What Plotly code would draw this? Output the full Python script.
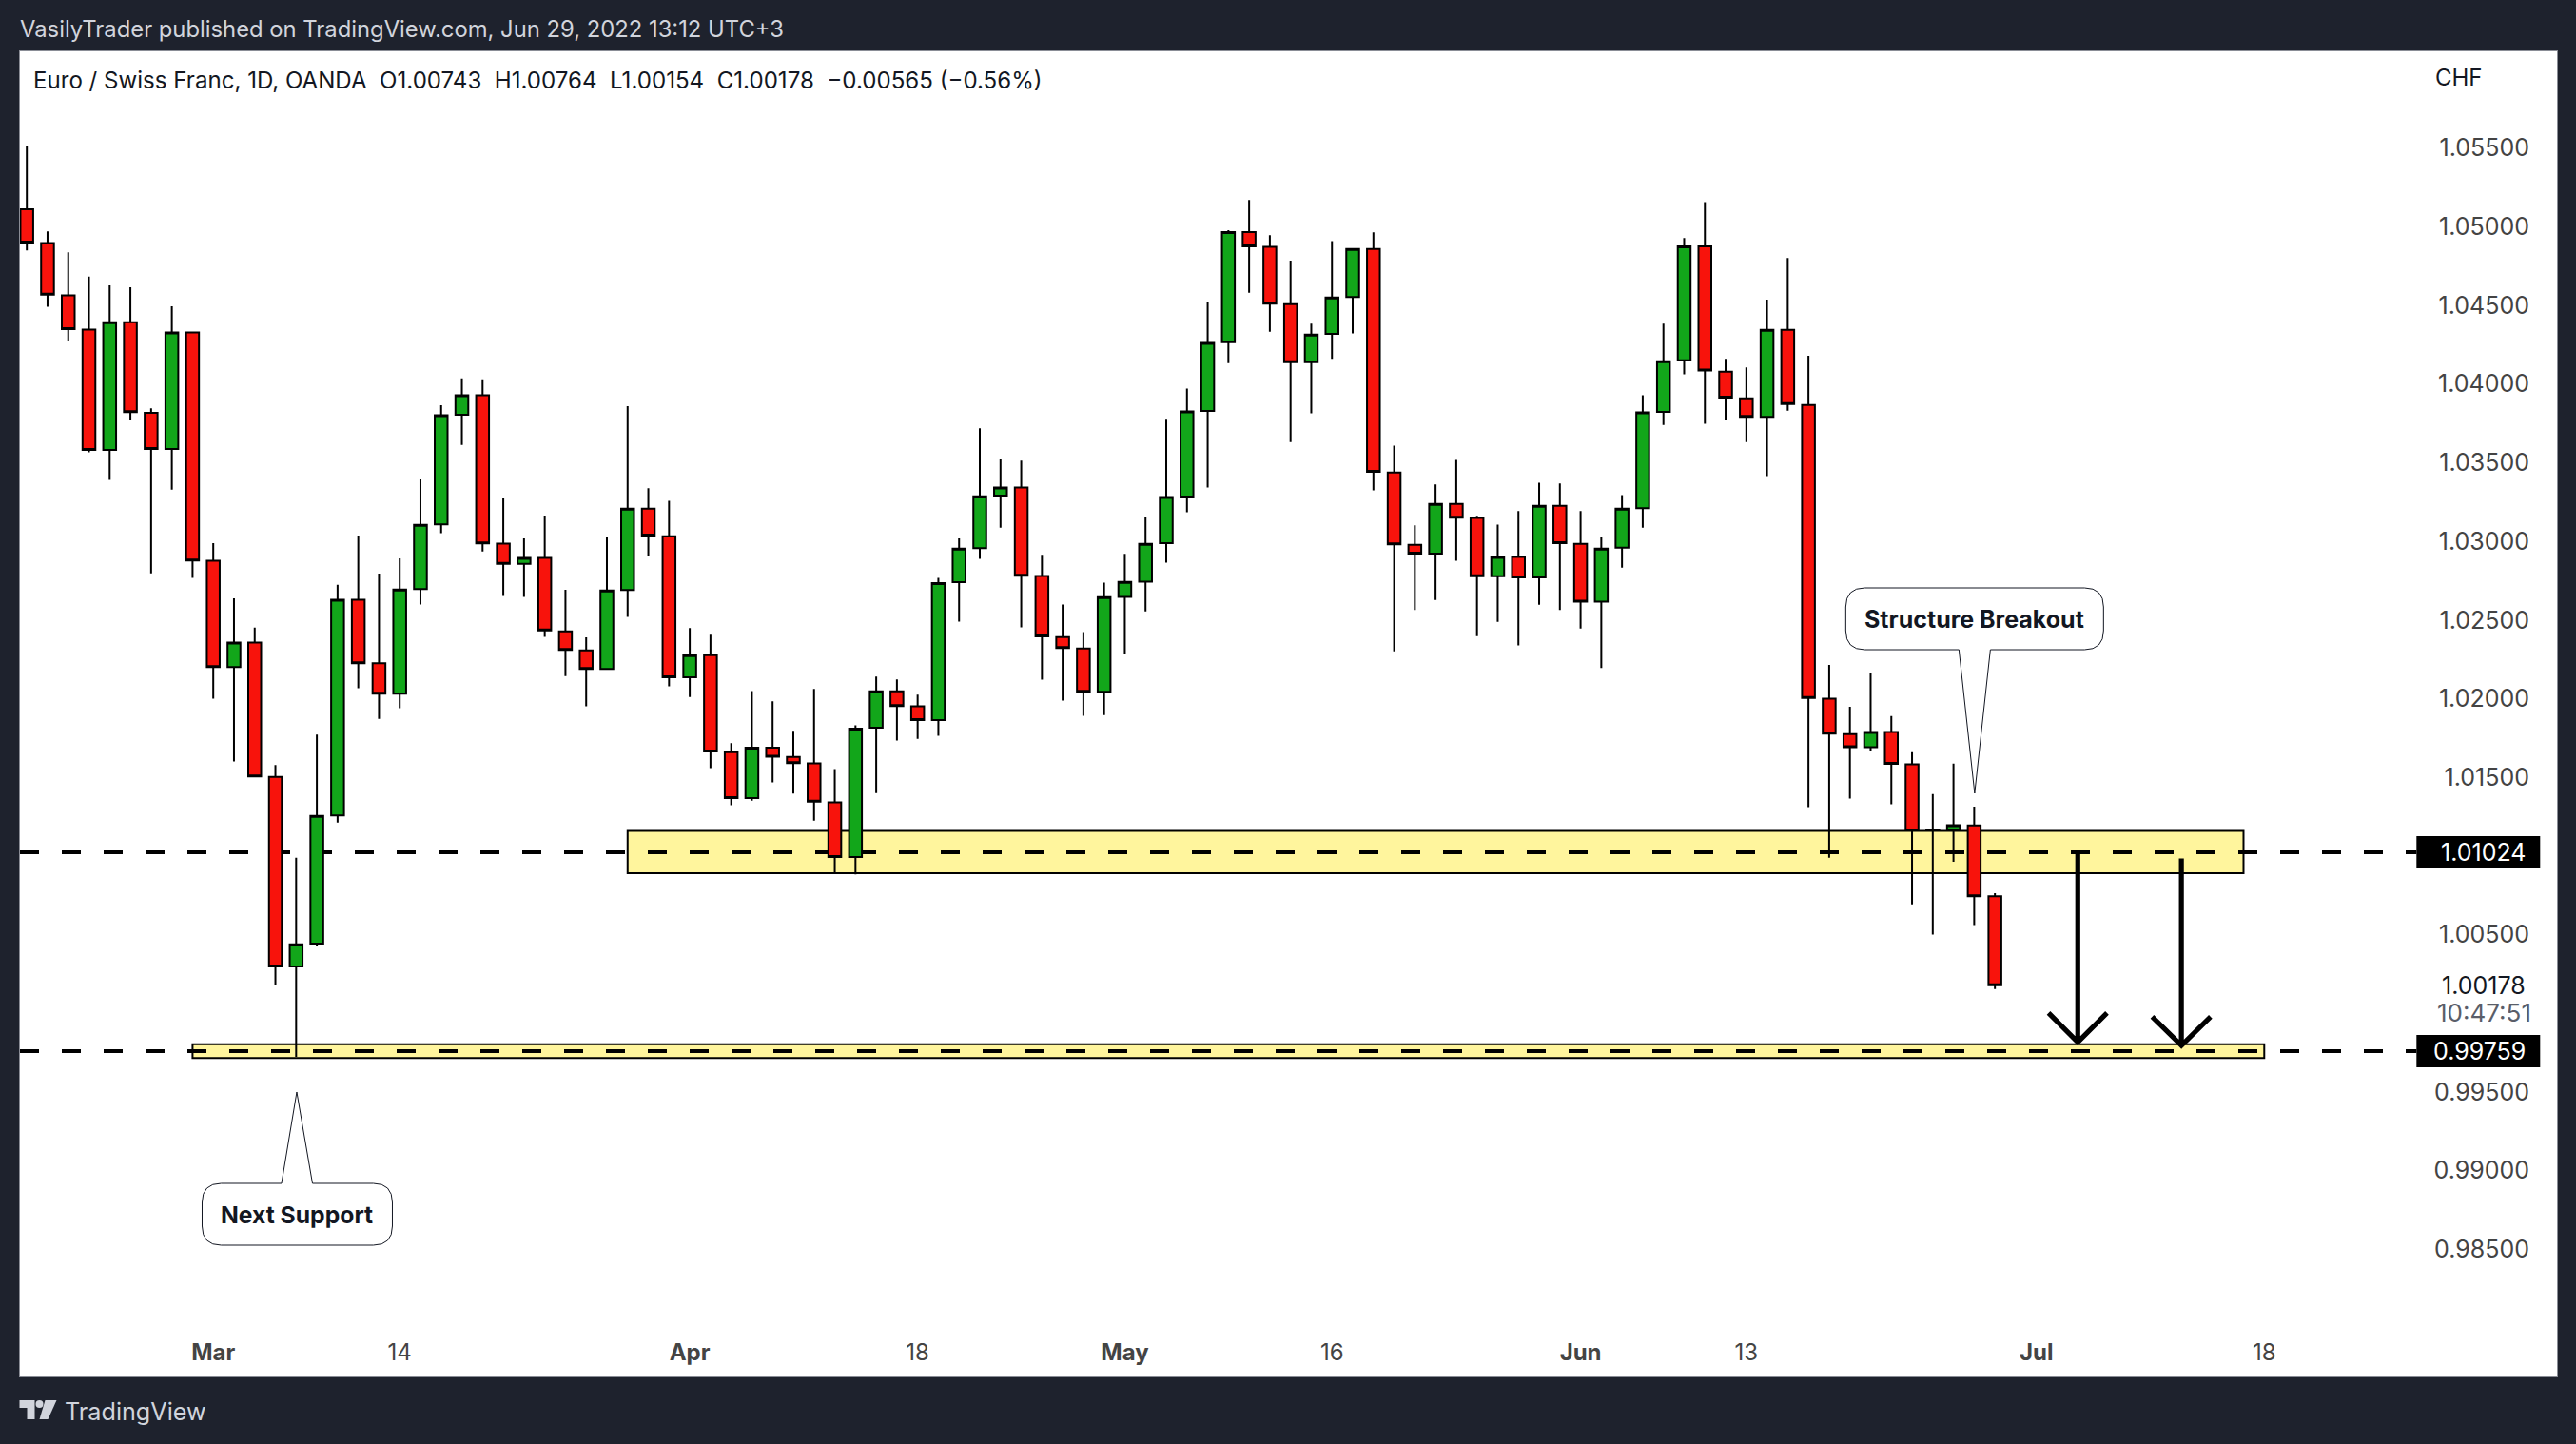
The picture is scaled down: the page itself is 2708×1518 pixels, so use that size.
import plotly.graph_objects as go

# Daily EUR/CHF candles, 16 Feb to 29 Jun 2022 (weekdays only, one bar per index)
opens = [
    1.05111, 1.04895, 1.04563, 1.04345, 1.03581, 1.04393, 1.03817, 1.03587, 1.04327, 1.02876,
    1.02201, 1.02356, 1.01503, 1.00298, 1.00443, 1.01258, 1.02628, 1.02225, 1.02032, 1.02697,
    1.03108, 1.03805, 1.03929, 1.02985, 1.02856, 1.02894, 1.02428, 1.02307, 1.02189, 1.02691,
    1.03208, 1.03032, 1.02136, 1.02277, 1.01659, 1.01368, 1.01689, 1.01630, 1.01588, 1.01340,
    1.00993, 1.01815, 1.02046, 1.01951, 1.01863, 1.02740, 1.02957, 1.03290, 1.03342, 1.02780,
    1.02391, 1.02319, 1.02044, 1.02647, 1.02744, 1.02988, 1.03284, 1.03828, 1.04265, 1.04966,
    1.04871, 1.04508, 1.04138, 1.04318, 1.04552, 1.04858, 1.03437, 1.02978, 1.02921, 1.03238,
    1.03148, 1.02778, 1.02900, 1.02770, 1.03226, 1.02983, 1.02616, 1.02960, 1.03210, 1.03823,
    1.04150, 1.04874, 1.04078, 1.03909, 1.03791, 1.04344, 1.03867, 1.02000, 1.01775, 1.01692,
    1.01788, 1.01582, 1.01169, 1.01162, 1.01194, 1.00743,
]
highs = [
    1.05510, 1.04970, 1.04837, 1.04682, 1.04627, 1.04615, 1.03845, 1.04494, 1.04327, 1.02989,
    1.02638, 1.02451, 1.01578, 1.00988, 1.01772, 1.02723, 1.03037, 1.02795, 1.02892, 1.03394,
    1.03865, 1.04035, 1.04029, 1.03279, 1.03019, 1.03164, 1.02692, 1.02390, 1.03025, 1.03859,
    1.03338, 1.03258, 1.02448, 1.02407, 1.01717, 1.02048, 1.01983, 1.01796, 1.02062, 1.01553,
    1.01831, 1.02140, 1.02122, 1.02025, 1.02767, 1.03018, 1.03718, 1.03524, 1.03513, 1.02914,
    1.02599, 1.02423, 1.02738, 1.02920, 1.03156, 1.03779, 1.03971, 1.04522, 1.04978, 1.05170,
    1.04945, 1.04784, 1.04383, 1.04908, 1.04858, 1.04964, 1.03608, 1.03101, 1.03361, 1.03518,
    1.03162, 1.03106, 1.03192, 1.03372, 1.03367, 1.03192, 1.03027, 1.03293, 1.03929, 1.04383,
    1.04927, 1.05156, 1.04159, 1.04105, 1.04536, 1.04800, 1.04180, 1.02215, 1.01949, 1.02166,
    1.01889, 1.01659, 1.01393, 1.01587, 1.01313, 1.00764,
]
lows = [
    1.04849, 1.04490, 1.04272, 1.03565, 1.03390, 1.03770, 1.02797, 1.03329, 1.02767, 1.01999,
    1.01600, 1.01506, 1.00183, 0.99724, 1.00431, 1.01213, 1.02066, 1.01872, 1.01939, 1.02598,
    1.03051, 1.03613, 1.02936, 1.02652, 1.02646, 1.02392, 1.02144, 1.01951, 1.02189, 1.02520,
    1.02906, 1.02078, 1.02011, 1.01558, 1.01322, 1.01351, 1.01468, 1.01396, 1.01225, 1.00896,
    1.00882, 1.01400, 1.01734, 1.01745, 1.01764, 1.02490, 1.02888, 1.03087, 1.02453, 1.02120,
    1.01988, 1.01891, 1.01896, 1.02284, 1.02555, 1.02865, 1.03184, 1.03342, 1.04133, 1.04580,
    1.04332, 1.03631, 1.03814, 1.04159, 1.04321, 1.03324, 1.02301, 1.02563, 1.02627, 1.02877,
    1.02398, 1.02488, 1.02338, 1.02597, 1.02563, 1.02446, 1.02194, 1.02833, 1.03087, 1.03740,
    1.04061, 1.03747, 1.03770, 1.03631, 1.03414, 1.03830, 1.01310, 1.00989, 1.01365, 1.01667,
    1.01328, 1.00693, 1.00501, 1.00963, 1.00561, 1.00154,
]
closes = [
    1.04899, 1.04567, 1.04349, 1.03581, 1.04393, 1.03821, 1.03587, 1.04327, 1.02878, 1.02201,
    1.02356, 1.01506, 1.00298, 1.00439, 1.01255, 1.02628, 1.02225, 1.02032, 1.02694, 1.03105,
    1.03801, 1.03929, 1.02987, 1.02856, 1.02894, 1.02433, 1.02310, 1.02189, 1.02688, 1.03208,
    1.03036, 1.02136, 1.02277, 1.01664, 1.01368, 1.01689, 1.01631, 1.01590, 1.01345, 1.00993,
    1.01810, 1.02046, 1.01953, 1.01863, 1.02735, 1.02953, 1.03286, 1.03342, 1.02781, 1.02395,
    1.02321, 1.02044, 1.02645, 1.02742, 1.02983, 1.03281, 1.03825, 1.04261, 1.04966, 1.04874,
    1.04511, 1.04138, 1.04314, 1.04550, 1.04858, 1.03442, 1.02981, 1.02921, 1.03238, 1.03150,
    1.02778, 1.02900, 1.02770, 1.03226, 1.02988, 1.02616, 1.02953, 1.03208, 1.03819, 1.04145,
    1.04874, 1.04085, 1.03914, 1.03791, 1.04344, 1.03872, 1.02004, 1.01777, 1.01692, 1.01788,
    1.01585, 1.01162, 1.01163, 1.01196, 1.00743, 1.00178,
]

bar_index = list(range(len(opens)))

x_tick_bars = [9, 18, 32, 43, 53, 63, 75, 83, 97, 108]
x_tick_labels = ["<b>Mar</b>", "14", "<b>Apr</b>", "18", "<b>May</b>", "16", "<b>Jun</b>", "13", "<b>Jul</b>", "18"]
y_ticks = [1.055, 1.05, 1.045, 1.04, 1.035, 1.03, 1.025, 1.02, 1.015, 1.005, 0.995, 0.99, 0.985]

# support zones: first bar, last bar, top, bottom
upper_zone = [29, 107, 1.0116, 1.00891]
lower_zone = [8, 108, 0.99804, 0.99716]
level_prices = [1.01024, 0.99759]
last_price = 1.00178

# projection arrows: bar, start price, tip price, price where the head starts
arrows = [
    [99, 1.01024, 0.99816, 1.00002],
    [104, 1.00984, 0.99796, 0.99978],
]

BG = "#1e222d"
FONT = "Inter"
W, H = 2708, 1518
L, R, T, B = 20.5, 2687.7, 54.0, 1447.0
X_RANGE = [-0.33, 122.13]


def px(x):
    return (x - L) / (R - L)


def py(y):
    return 1 - (y - T) / (B - T)


def callout(x0, y0, x1, y1, r, base0, base1, tip, pointer_up):
    """Rounded box with a narrow pointer, in pixels of the page."""
    pts = [f"M {px(x0 + r)},{py(y0)}"]
    if pointer_up:
        pts += [f"L {px(base0)},{py(y0)}", f"L {px(tip[0])},{py(tip[1])}", f"L {px(base1)},{py(y0)}"]
    pts += [f"L {px(x1 - r)},{py(y0)}", f"Q {px(x1)},{py(y0)} {px(x1)},{py(y0 + r)}"]
    pts += [f"L {px(x1)},{py(y1 - r)}", f"Q {px(x1)},{py(y1)} {px(x1 - r)},{py(y1)}"]
    if not pointer_up:
        pts += [f"L {px(base1)},{py(y1)}", f"L {px(tip[0])},{py(tip[1])}", f"L {px(base0)},{py(y1)}"]
    pts += [f"L {px(x0 + r)},{py(y1)}", f"Q {px(x0)},{py(y1)} {px(x0)},{py(y1 - r)}"]
    pts += [f"L {px(x0)},{py(y0 + r)}", f"Q {px(x0)},{py(y0)} {px(x0 + r)},{py(y0)} Z"]
    return dict(
        type="path", xref="paper", yref="paper", path=" ".join(pts),
        fillcolor="white", line=dict(color="#131722", width=1),
    )


def label(x, y, text, size=24, color="#131722", anchor="left", yref="paper"):
    return dict(
        x=px(x), y=py(y) if yref == "paper" else y, xref="paper", yref=yref,
        text=text, showarrow=False, xanchor=anchor, yanchor="middle",
        font=dict(family=FONT, size=size, color=color),
    )


def polygon(points):
    path = "M " + " L ".join(f"{px(a)},{py(b)}" for a, b in points) + " Z"
    return dict(type="path", xref="paper", yref="paper", path=path, fillcolor="#d1d4dc", line_width=0)


fig = go.Figure()

fig.add_trace(
    go.Candlestick(
        x=bar_index,
        open=opens,
        high=highs,
        low=lows,
        close=closes,
        whiskerwidth=0,
        increasing=dict(fillcolor="#12a61a", line=dict(color="black", width=2)),
        decreasing=dict(fillcolor="#f8130c", line=dict(color="black", width=2)),
        hoverinfo="skip",
        showlegend=False,
    )
)

shapes = []

# Las zonas y las lineas punteadas van debajo de las velas.
for zone in [upper_zone, lower_zone]:
    shapes.append(dict(
        type="rect", xref="x", yref="y", layer="below",
        x0=zone[0], x1=zone[1], y0=zone[3], y1=zone[2],
        fillcolor="#fff59d", line=dict(color="black", width=2),
    ))

for price in level_prices:
    shapes.append(dict(
        type="line", xref="x", yref="y", layer="below",
        x0=X_RANGE[0], x1=115.35, y0=price, y1=price,
        line=dict(color="black", width=4, dash="20px,24px"),
    ))

for bar, start, tip, head in arrows:
    shapes.append(dict(
        type="path", xref="x", yref="y",
        path=f"M {bar},{start} L {bar},{tip} M {bar - 1.41},{head} L {bar},{tip} L {bar + 1.41},{head}",
        line=dict(color="black", width=5.2),
    ))

shapes.append(callout(1940, 618, 2211, 683, 20, 2059, 2092, (2075.5, 834), False))
shapes.append(callout(212, 1244, 412, 1309, 20, 295.5, 328, (311.5, 1148), True))

# black price tags
for price in level_prices:
    shapes.append(dict(
        type="rect", xref="paper", yref="y", x0=px(2540), x1=px(2670),
        y0=price - 17 / 16540, y1=price + 17 / 16540,
        fillcolor="black", line_width=0,
    ))

# logo
shapes.append(polygon([(20, 1472), (36, 1472), (36, 1492), (28, 1492), (28, 1480), (20, 1480)]))
shapes.append(polygon([(47, 1472), (59, 1472), (50, 1492), (41, 1492)]))
shapes.append(dict(
    type="circle", xref="paper", yref="paper",
    x0=px(37), x1=px(45), y0=py(1480), y1=py(1472), fillcolor="#d1d4dc", line_width=0,
))

annotations = [
    label(18, 31, "VasilyTrader published on TradingView.com, Jun 29, 2022 13:12 UTC+3", size=23.8, color="#d1d4dc"),
    label(33, 85, "Euro / Swiss Franc, 1D, OANDA  O1.00743  H1.00764  L1.00154  C1.00178  −0.00565 (−0.56%)", size=24.1),
    label(2558, 81, "CHF"),
    label(66, 1484, "TradingView", size=25.2, color="#d1d4dc"),
    label(2075.5, 651, "<b>Structure Breakout</b>", size=25, anchor="center"),
    label(312, 1277, "<b>Next Support</b>", size=24.7, anchor="center"),
    label(2657, last_price, f"{last_price:.5f}", size=25, anchor="right", yref="y"),
    label(2663, 1064, "10:47:51", size=26, color="#5a5e69", anchor="right"),
]
for price in level_prices:
    annotations.append(label(2657, price, f"{price:.5f}", size=25, color="white", anchor="right", yref="y"))

fig.update_layout(
    width=W,
    height=H,
    margin=dict(l=L, r=W - R, t=T, b=H - B, pad=0),
    paper_bgcolor=BG,
    plot_bgcolor="white",
    font=dict(family=FONT, size=24, color="#131722"),
    showlegend=False,
    boxgap=0.38,
    boxgroupgap=0,
    shapes=shapes,
    annotations=annotations,
    xaxis=dict(
        range=X_RANGE,
        rangeslider_visible=False,
        showgrid=False,
        zeroline=False,
        showline=True,
        mirror=True,
        linecolor="#8a8d96",
        linewidth=1,
        ticks="",
        tickmode="array",
        tickvals=x_tick_bars,
        ticktext=x_tick_labels,
        ticklabelposition="inside",
        ticklabelstandoff=14,
    ),
    yaxis=dict(
        side="right",
        range=[0.97692, 1.06114],
        showgrid=False,
        zeroline=False,
        showline=True,
        mirror=True,
        linecolor="#8a8d96",
        linewidth=1,
        ticks="",
        tickmode="array",
        tickvals=y_ticks,
        tickformat=".5f",
        tickfont_size=25,
        ticklabelposition="inside",
        ticklabelstandoff=31,
    ),
)

fig.write_html(
    "out.html",
    config={"displayModeBar": False},
    post_script="document.body.style.margin='0';",
)
